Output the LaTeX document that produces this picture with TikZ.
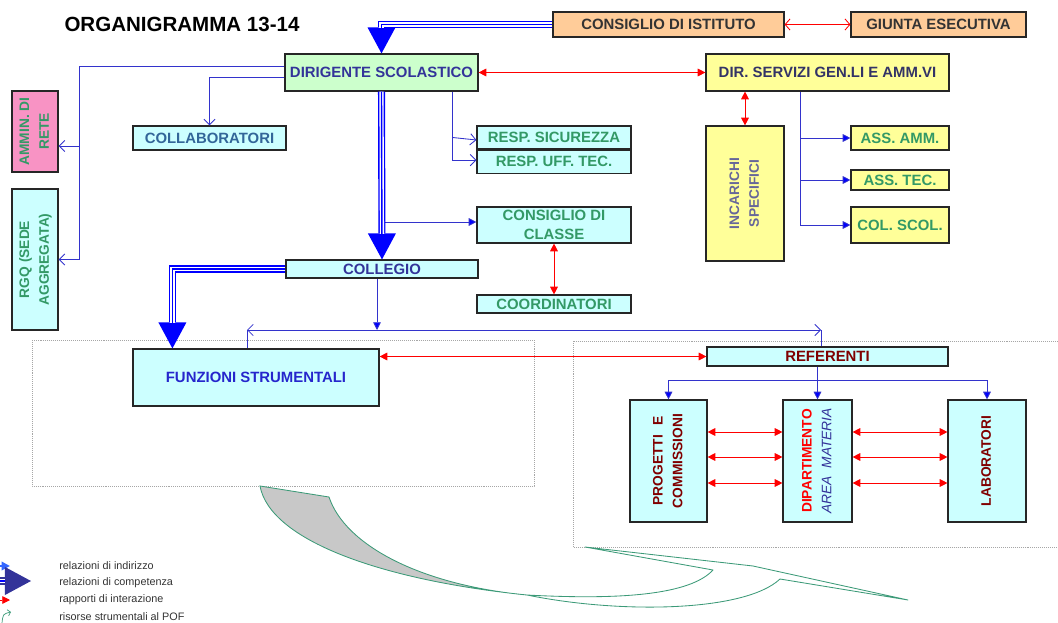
\documentclass[tikz,border=0pt]{standalone}
\usepackage{fontspec}
\setmainfont{Liberation Sans}
\usepackage{tikz}
\usetikzlibrary{arrows.meta,positioning,calc,shadows}
\definecolor{pesca}{HTML}{FFCC99}
\definecolor{verdino}{HTML}{CCFFCC}
\definecolor{giallino}{HTML}{FFFF99}
\definecolor{azzurrino}{HTML}{CCFFFF}
\definecolor{rosa}{HTML}{F893C4}
\definecolor{grigioscuro}{HTML}{333333}
\definecolor{blutesto}{HTML}{333399}
\definecolor{bludsga}{HTML}{333366}
\definecolor{blucoll}{HTML}{336699}
\definecolor{blufs}{HTML}{2626CC}
\definecolor{grigioblu}{HTML}{666699}
\definecolor{verdetesto}{HTML}{339966}
\definecolor{bordeaux}{HTML}{800000}
\definecolor{rosso}{HTML}{FF0000}
\definecolor{blulinea}{HTML}{3333CC}
\definecolor{bluforte}{HTML}{0000FF}
\definecolor{bluchiaro}{HTML}{3366FF}
\definecolor{verdefreccia}{HTML}{3C9A78}
\definecolor{grigiofreccia}{HTML}{C8C8C8}

% testo verticale su piu righe
\newcommand{\vlab}[1]{\rotatebox{90}{\begin{tabular}{@{}c@{}}#1\end{tabular}}}

\begin{document}
\begin{tikzpicture}[
  x=0.025cm, y=-0.025cm,
  box/.style={draw=black!85,line width=0.8pt,inner sep=0pt,align=center,font=\fontsize{10.6}{13.5}\selectfont\bfseries,
    drop shadow={shadow xshift=0.9pt,shadow yshift=-0.9pt,fill=black!85,opacity=1}},
  vbox/.style={box,font=\fontsize{9.8}{14}\selectfont\bfseries},
  organo/.style={box,fill=pesca,text=grigioscuro,minimum height=0.625cm},
  resp/.style={box,fill=azzurrino,text=verdetesto,minimum width=3.85cm},
  ass/.style={box,fill=giallino,text=verdetesto,minimum width=2.45cm},
  titolo/.style={inner sep=0pt,font=\fontsize{14.6}{17}\selectfont\bfseries},
  legenda/.style={anchor=west,inner sep=0pt,text=grigioscuro,font=\fontsize{7.7}{9}\selectfont},
  tratto/.style={draw=blulinea,line width=0.6pt},
  indirizzo/.style={tratto,-{Straight Barb[length=4pt,width=8pt]}},
  indirizzodoppio/.style={tratto,{Straight Barb[length=4pt,width=8pt]}-{Straight Barb[length=4pt,width=8pt]}},
  freccia/.style={tratto,-{Triangle[length=5.5pt,width=5.5pt,fill=bluforte]}},
  interazione/.style={draw=rosso,line width=0.6pt,{Triangle[length=5.5pt,width=5.5pt]}-{Triangle[length=5.5pt,width=5.5pt]}},
  interazioneaperta/.style={draw=rosso,line width=0.6pt,{Straight Barb[length=3.5pt,width=8pt]}-{Straight Barb[length=3.5pt,width=8pt]}},
  competenza/.style={draw=bluforte,line width=5pt,-{Triangle[length=0.65cm,width=0.7cm,line width=0pt]},
    postaction={draw=white,line width=3pt,-,shorten >=0.64cm},
    postaction={draw=bluforte,line width=1pt,-,shorten >=0.64cm}},
  riquadro/.style={draw=gray!70,line width=0.6pt,dash pattern=on 0.7pt off 0.7pt}
]
  \useasboundingbox (0,0) rectangle (1058,623);

  % riquadri tratteggiati
  \draw[riquadro] (32,340) rectangle (534,486);
  \draw[riquadro] (573,341) rectangle (1070,547);

  \node[titolo] (titolo) at (182,24) {ORGANIGRAMMA 13-14};

  % organi collegiali e direzione
  \node[organo,minimum width=5.775cm] (ci) at (668.5,24.5) {CONSIGLIO DI ISTITUTO};
  \node[organo,minimum width=4.375cm] (ge) at (938.5,24.5) {GIUNTA ESECUTIVA};
  \node[box,fill=verdino,text=blutesto,minimum width=4.825cm,minimum height=0.925cm] (ds) at (381.5,72.5) {DIRIGENTE SCOLASTICO};
  \node[box,fill=giallino,text=bludsga,minimum width=6.075cm,minimum height=0.925cm] (dsga) at (827.5,72.5) {DIR. SERVIZI GEN.LI E AMM.VI};

  % colonna sinistra
  \node[vbox,fill=rosa,text=verdetesto,minimum width=1.15cm,minimum height=2.025cm] (amm) at (35,131.5) {\vlab{AMMIN. DI\\RETE}};
  \node[vbox,fill=azzurrino,text=verdetesto,minimum width=1.15cm,minimum height=3.525cm] (rgq) at (35,259.5) {\vlab{RGQ (SEDE\\AGGREGATA)}};
  \node[box,fill=azzurrino,text=blucoll,minimum width=3.825cm,minimum height=0.6cm] (coll) at (209.5,138) {COLLABORATORI};

  % staff del dirigente
  \node[resp,minimum height=0.575cm] (rs) at (554,137.5) {RESP. SICUREZZA};
  \node[resp,minimum height=0.575cm,below=0pt of rs] (rut) {RESP. UFF. TEC.};
  \node[resp,minimum height=0.9cm] (cdc) at (554,225) {CONSIGLIO DI\\CLASSE};
  \node[resp,minimum height=0.45cm] (coord) at (554,304) {COORDINATORI};
  \node[box,fill=azzurrino,text=blutesto,minimum width=4.8cm,minimum height=0.45cm] (col) at (382,269) {COLLEGIO};

  % area amministrativa
  \node[vbox,fill=giallino,text=grigioblu,minimum width=1.95cm,minimum height=3.375cm] (inc) at (745,193.5) {\vlab{INCARICHI\\SPECIFICI}};
  \node[ass,minimum height=0.6cm] (aa) at (900,138) {ASS. AMM.};
  \node[ass,minimum height=0.5cm] (atec) at (900,180) {ASS. TEC.};
  \node[ass,minimum height=0.9cm] (cs) at (900,225) {COL. SCOL.};

  % area didattica
  \node[box,fill=azzurrino,text=blufs,minimum width=6.15cm,minimum height=1.425cm] (fs) at (256,377.5) {FUNZIONI STRUMENTALI};
  \node[box,fill=azzurrino,text=bordeaux,minimum width=6.025cm,minimum height=0.475cm] (ref) at (827.5,356.5) {REFERENTI};
  \node[vbox,fill=azzurrino,text=bordeaux,minimum width=1.925cm,minimum height=3.05cm] (pc) at (668.5,461) {\vlab{PROGETTI\hspace{4pt} E\\COMMISSIONI}};
  \node[vbox,fill=azzurrino,minimum width=1.725cm,minimum height=3.05cm] (dip) at (817.5,461) {\vlab{\textcolor{rosso}{DIPARTIMENTO}\\\textcolor{blutesto}{\mdseries\itshape AREA\hspace{3pt} MATERIA}}};
  \node[vbox,fill=azzurrino,text=bordeaux,minimum width=1.95cm,minimum height=3.05cm] (lab) at (987,461) {\vlab{LABORATORI}};

  % relazioni di indirizzo
  \coordinate (vsx) at (79,0);
  \coordinate (vamm) at (79,146);
  \draw[indirizzo] ($(ds.west)+(0,-6.5)$) -| (vsx |- rgq.east) -- (rgq.east);
  \draw[indirizzo] (vamm) -- (vamm -| amm.east);
  \draw[indirizzo] ($(ds.west)+(0,4.5)$) -| (coll.north);
  \coordinate (vresp) at ($(ds.south east)+(-26,0)$);
  \draw[indirizzo] (vresp) |- ($(rut.west)+(0,-1.5)$);
  \draw[indirizzo] (vresp |- rs.west) -- ($(rs.west)+(0,2.5)$);
  \draw[freccia] ($(ds.south |- cdc.west)+(0,-3)$) -- ($(cdc.west)+(0,-3)$);
  \coordinate (vdsga) at ($(dsga.south west)+(95,0)$);
  \draw[freccia] (vdsga) |- (cs.west);
  \draw[freccia] (vdsga |- aa.west) -- (aa.west);
  \draw[freccia] (vdsga |- atec.west) -- (atec.west);

  \coordinate (busl) at (247,330);
  \coordinate (busr) at (821,330);
  \coordinate (colout) at ($(col.south)+(-5,0)$);
  \draw[freccia] (colout) -- (colout |- busl);
  \draw[indirizzodoppio] (busl) -- (busr);
  \draw[tratto] (busl) -- (busl |- fs.north);
  \draw[tratto] (busr) -- (busr |- ref.north);

  \coordinate (rbus) at (0,380);
  \draw[tratto] (rbus -| pc.north) -- (rbus -| lab.north);
  \draw[freccia] (ref.south -| dip.north) -- (dip.north);
  \draw[freccia] (rbus -| pc.north) -- (pc.north);
  \draw[freccia] (rbus -| lab.north) -- (lab.north);

  % relazioni di competenza
  \draw[competenza] (ci.west) -| (ds.north);
  \draw[competenza] (ds.south) -- (col.north);
  \draw[competenza] (col.west) -| ($(fs.north west)+(40,0)$);

  % rapporti di interazione
  \draw[interazioneaperta] (ci.east) -- (ge.west);
  \draw[interazione] (ds.east) -- (dsga.west);
  \draw[interazione] (dsga.south -| inc.north) -- (inc.north);
  \draw[interazione] (cdc.south) -- (coord.north);
  \draw[interazione] (fs.east |- ref.west) -- (ref.west);
  \foreach \dy in {-29,-4,22} {
    \draw[interazione] ($(pc.east)+(0,\dy)$) -- ($(dip.west)+(0,\dy)$);
    \draw[interazione] ($(dip.east)+(0,\dy)$) -- ($(lab.west)+(0,\dy)$);
  }

  % risorse strumentali al POF
  \filldraw[fill=grigiofreccia,draw=verdefreccia,line width=0.6pt] (260,486) -- (329,497)
    .. controls (345,545) and (420,585) .. (527,595)
    .. controls (380,580) and (270,540) .. (260,486) -- cycle;
  \draw[verdefreccia,line width=0.6pt,line join=round] (527,595)
    .. controls (620,600) and (690,595) .. (713,570) -- (585,547) -- (753,566) -- (908,600) -- (780,579)
    .. controls (745,612) and (620,614) .. (527,595);

  % legenda
  \node[legenda] (l1) at (59,566) {relazioni di indirizzo};
  \node[legenda] (l2) at (59,583) {relazioni di competenza};
  \node[legenda] (l3) at (59,600) {rapporti di interazione};
  \node[legenda] (l4) at (59,617) {risorse strumentali al POF};
  \coordinate (i1) at (10,566);
  \coordinate (i2) at (31,581);
  \coordinate (i3) at (10,600);
  \coordinate (i4) at (11,612);
  \draw[draw=bluchiaro,line width=1.5pt,-{Triangle[length=6pt,width=6pt]}] ($(i1)+(-20,0)$) -- (i1);
  \draw[competenza,draw=blutesto] ($(i2)+(-40,0)$) -- (i2);
  \draw[interazione] ($(i3)+(-20,0)$) -- (i3);
  \draw[verdefreccia,line width=0.5pt,-{Straight Barb[length=2pt,width=4.5pt]}] ($(i4)+(-9,11)$) .. controls ($(i4)+(-8,2)$) .. (i4);
\end{tikzpicture}
\end{document}
